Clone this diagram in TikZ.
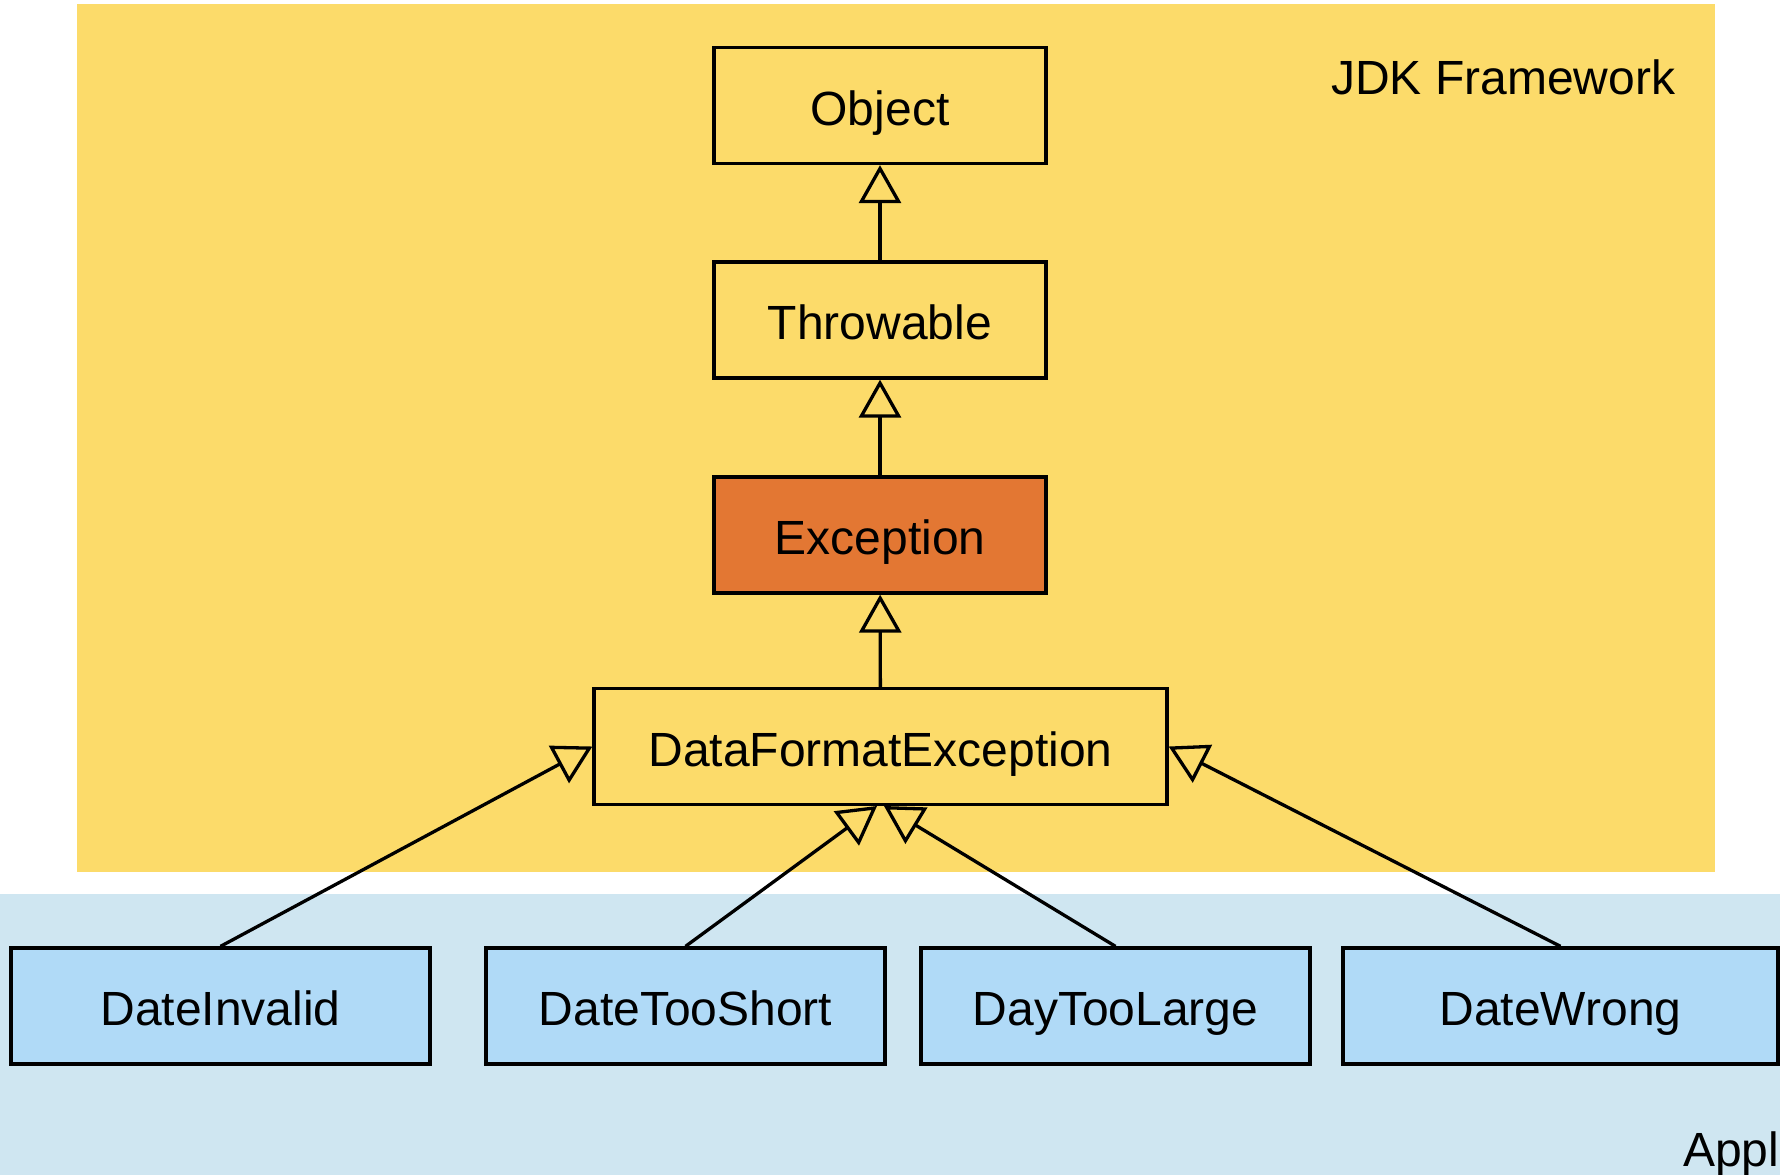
\documentclass[tikz,border=0pt]{standalone}
\usepackage{fontspec}
\setmainfont{Liberation Sans}
\usetikzlibrary{arrows.meta}
\definecolor{yelbg}{RGB}{252,219,106}
\definecolor{orangebox}{RGB}{227,119,51}
\definecolor{bluebg}{RGB}{207,230,241}
\definecolor{bluebox}{RGB}{176,218,247}
\tikzset{
  cls/.style={draw=black, line width=3.3pt, inner sep=0pt, text height=39pt, text depth=0pt,
    font=\fontsize{48}{58}\selectfont, minimum height=116pt},
  jdk/.style={cls, fill=yelbg},
  app/.style={cls, fill=bluebox},
  inherit/.style={draw=black, line width=3.3pt,
    -{Triangle[length=38pt,width=42pt,fill=yelbg,line width=3.3pt]}},
  lbl/.style={inner sep=0pt, anchor=base west, font=\fontsize{48}{58}\selectfont}
}
\begin{document}
\begin{tikzpicture}[x=1pt,y=-1pt]
\useasboundingbox (0,0) rectangle (1780,1175);
\fill[white] (0,0) rectangle (1780,1175);
\fill[yelbg] (77,4) rectangle (1715,872);
\fill[bluebg] (0,894) rectangle (1780,1175);

\node[lbl] (jdklabel) at (1331,94) {JDK Framework};
\node[lbl] (applabel) at (1683,1166) {Appl};

\node[jdk, minimum width=332pt] (object) at (880,105.5) {Object};
\node[jdk, minimum width=332pt] (throwable) at (880,320) {Throwable};
\node[cls, fill=orangebox, minimum width=332pt] (exception) at (880,535) {Exception};
\node[jdk, minimum width=573pt] (dfe) at (880.5,746.5) {DataFormatException};

\node[app, minimum width=419pt] (dinv) at (220.5,1006) {DateInvalid};
\node[app, minimum width=399pt] (dshort) at (685.5,1006) {DateTooShort};
\node[app, minimum width=389pt] (dlarge) at (1115.5,1006) {DayTooLarge};
\node[app, minimum width=435pt] (dwrong) at (1560.5,1006) {DateWrong};

\coordinate (tipS) at (877,806);
\coordinate (tipL) at (884,806);

\draw[inherit] (throwable) -- (object);
\draw[inherit] (exception) -- (throwable);
\draw[inherit] (dfe) -- (exception);
\draw[inherit] (dinv.north) -- (dfe.west);
\draw[inherit] (dwrong.north) -- (dfe.east);
\draw[inherit] (dshort.north) -- (tipS);
\draw[inherit] (dlarge.north) -- (tipL);
\end{tikzpicture}
\end{document}
